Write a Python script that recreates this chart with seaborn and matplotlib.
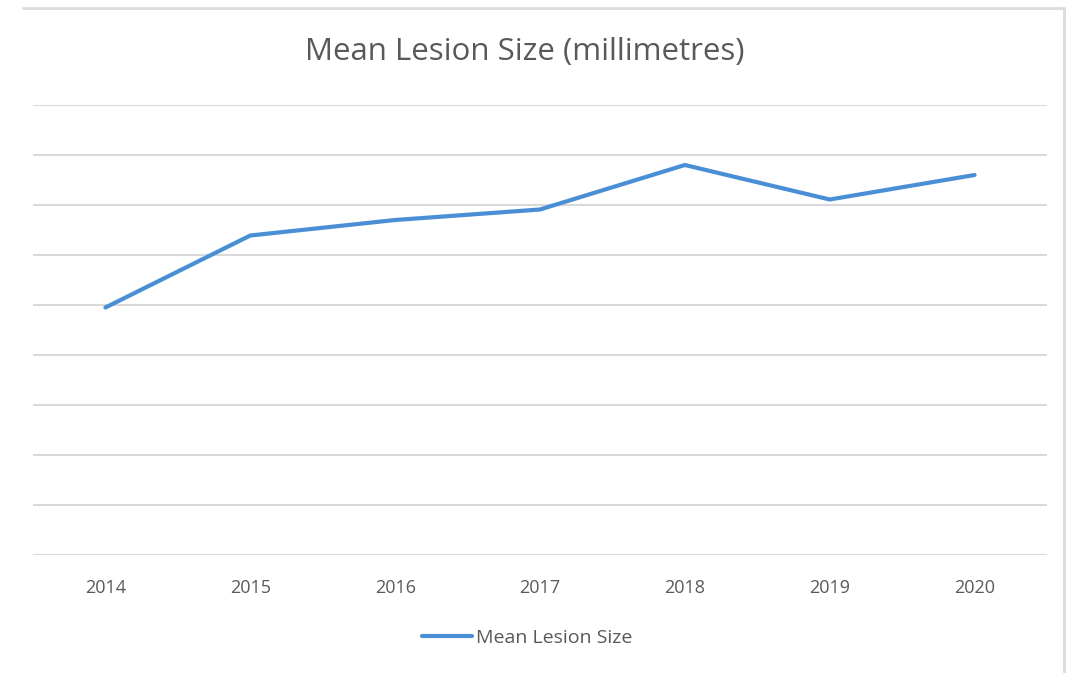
import matplotlib
matplotlib.use("Agg")
import matplotlib.pyplot as plt
import matplotlib.font_manager as fm
from matplotlib.lines import Line2D
import seaborn as sns
import pandas as pd

# Mean lesion size per year
years = ["2014", "2015", "2016", "2017", "2018", "2019", "2020"]
mean_size = [4.95, 6.39, 6.70, 6.91, 7.80, 7.11, 7.60]
series_name = "Mean Lesion Size"
title = "Mean Lesion Size (millimetres)"

df = pd.DataFrame({"Year": years, series_name: mean_size})

sns.set_theme(style="white")
available = {f.name for f in fm.fontManager.ttflist}
family = "Liberation Sans Narrow" if "Liberation Sans Narrow" in available else "Open Sans"
plt.rcParams["font.family"] = [family, "DejaVu Sans"]

line_color = "#4A8FD6"
text_color = "#595959"
grid_color = "#D9D9D9"

fig = plt.figure(figsize=(10.83, 6.73), dpi=100)
ax = fig.add_axes([33 / 1083, 1 - 555 / 673, (1047 - 33) / 1083, (555 - 105) / 673])

sns.lineplot(data=df, x="Year", y=series_name, ax=ax, color=line_color,
             linewidth=3.0, sort=False, legend=False)

ax.set_xlim(-0.5, len(years) - 0.5)
ax.set_ylim(0, 9)
ax.set_yticks(range(0, 10))
ax.yaxis.grid(True, color=grid_color, linewidth=1.5)
ax.set_axisbelow(True)
ax.tick_params(axis="y", left=False, labelleft=False)
ax.tick_params(axis="x", bottom=False, labelsize=13, labelcolor=text_color, pad=11)
ax.set_xlabel("")
ax.set_ylabel("")
for s in ax.spines.values():
    s.set_visible(False)

fig.text(525 / 1083, 1 - 52 / 673, title, ha="center", va="center",
         fontsize=22.5, color=text_color)

handle = Line2D([], [], color=line_color, linewidth=3.0)
fig.legend([handle], [series_name], loc="center", bbox_to_anchor=(527 / 1083, 1 - 638 / 673),
           frameon=False, fontsize=14, labelcolor=text_color, handlelength=2.6,
           handletextpad=0.2)

# outer chart frame (top and right edges)
fig.add_artist(Line2D([23 / 1083, 1064 / 1083], [1 - 8 / 673, 1 - 8 / 673],
                      transform=fig.transFigure, color="#DCDCDC", linewidth=2))
fig.add_artist(Line2D([1064 / 1083, 1064 / 1083], [1 - 8 / 673, 0],
                      transform=fig.transFigure, color="#DCDCDC", linewidth=2))

fig.savefig("out.png", dpi=100, facecolor="white")
